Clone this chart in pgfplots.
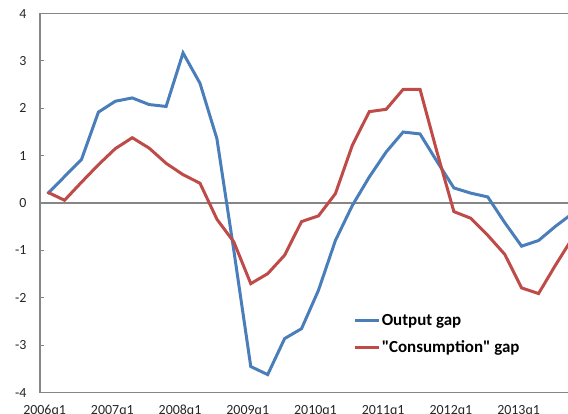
\documentclass[border=0pt]{standalone}
\usepackage{fontspec}
\setmainfont{Carlito}[Ligatures=TeXOff]
\usepackage{pgfplots}
\pgfplotsset{compat=1.18}

\definecolor{gapblue}{HTML}{4A7EBB}
\definecolor{gapred}{HTML}{BE4B48}
\definecolor{axgray}{HTML}{868686}

% quarters: 0 = 2006q1, 1 = 2006q2, ...
\begin{document}
\begin{tikzpicture}
\useasboundingbox (0,0) rectangle (568bp,414bp);
\begin{axis}[
  at={(40bp,21.4bp)}, anchor=south west,
  scale only axis,
  width=532.4bp, height=379bp,
  xmin=-0.45, xmax=31,
  ymin=-4, ymax=4,
  axis line style={axgray, line width=1.3bp},
  ytick={-4,-3,...,4},
  xtick={0,4,...,28},
  xticklabels={2006q1,2007q1,2008q1,2009q1,2010q1,2011q1,2012q1,2013q1},
  xtick style={draw=none},
  ytick style={axgray, line width=1bp},
  ytick pos=left,
  tick align=inside,
  major tick length=4bp,
  /pgf/number format/assume math mode=true,
  tick label style={font=\fontsize{14}{16}\selectfont, text=black!85},
  yticklabel style={xshift=-10bp},
  xticklabel style={yshift=-9bp, xshift=-3bp},
  extra y ticks={0},
  extra y tick labels={},
  extra y tick style={grid=major, major grid style={axgray, line width=1.3bp}, tick style={draw=none}},
  legend style={draw=none, fill=none, inner sep=0pt,
    at={(0.588,0.212)}, anchor=north west,
    font=\fontsize{17}{19}\selectfont\bfseries,
    row sep=11bp, nodes={inner sep=1.5bp}},
  legend cell align=left,
  legend image code/.code={\draw[#1] (0bp,0bp) -- (24bp,0bp);},
]
\addplot[gapblue, line width=3bp] coordinates {
  (0,0.20) (1,0.56) (2,0.92) (3,1.92) (4,2.15) (5,2.22) (6,2.08) (7,2.04)
  (8,3.17) (9,2.53) (10,1.36) (11,-1.00) (12,-3.45) (13,-3.62) (14,-2.86) (15,-2.65)
  (16,-1.84) (17,-0.79) (18,-0.05) (19,0.55) (20,1.08) (21,1.50) (22,1.46) (23,0.88)
  (24,0.32) (25,0.21) (26,0.13) (27,-0.41) (28,-0.91) (29,-0.79) (30,-0.49) (31,-0.22)};
\addlegendentry{Output gap}
\addplot[gapred, line width=3bp] coordinates {
  (0,0.23) (1,0.06) (2,0.44) (3,0.81) (4,1.15) (5,1.38) (6,1.16) (7,0.84)
  (8,0.60) (9,0.42) (10,-0.34) (11,-0.82) (12,-1.70) (13,-1.49) (14,-1.10) (15,-0.39)
  (16,-0.27) (17,0.20) (18,1.22) (19,1.93) (20,1.98) (21,2.40) (22,2.40) (23,1.08)
  (24,-0.18) (25,-0.32) (26,-0.68) (27,-1.08) (28,-1.79) (29,-1.91) (30,-1.31) (31,-0.74)};
\addlegendentry{"Consumption" gap}
\end{axis}
\end{tikzpicture}
\end{document}
